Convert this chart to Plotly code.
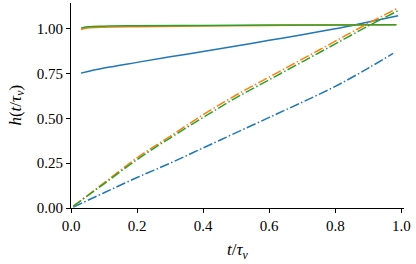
import plotly.graph_objects as go

colors = ["#1f77b4", "#ff7f0e", "#2ca02c"]

# solid curves
t_blue_s = [0.03, 0.1, 0.2, 0.3, 0.4, 0.5, 0.6, 0.7, 0.8, 0.9, 0.99]
h_blue_s = [0.752, 0.78, 0.812, 0.843, 0.872, 0.903, 0.935, 0.966, 0.999, 1.037, 1.072]
t_orange_s = [0.03, 0.05, 0.1, 0.2, 0.4, 0.6, 0.8, 0.985]
h_orange_s = [0.995, 1.003, 1.008, 1.011, 1.015, 1.018, 1.020, 1.022]
t_green_s = [0.03, 0.05, 0.1, 0.2, 0.4, 0.6, 0.8, 0.985]
h_green_s = [1.003, 1.010, 1.014, 1.016, 1.018, 1.020, 1.021, 1.022]

# dash-dot curves
t_blue_d = [0.007, 0.1, 0.2, 0.3, 0.4, 0.5, 0.6, 0.7, 0.8, 0.9, 0.975]
h_blue_d = [0.005, 0.085, 0.17, 0.25, 0.335, 0.42, 0.505, 0.59, 0.678, 0.78, 0.862]
t_orange_d = [0.007, 0.1, 0.2, 0.3, 0.4, 0.5, 0.6, 0.7, 0.8, 0.9, 0.99]
h_orange_d = [0.01, 0.14, 0.28, 0.40, 0.52, 0.63, 0.73, 0.83, 0.93, 1.03, 1.115]
t_green_d = [0.007, 0.1, 0.2, 0.3, 0.4, 0.5, 0.6, 0.7, 0.8, 0.9, 0.99]
h_green_d = [0.01, 0.135, 0.27, 0.39, 0.505, 0.615, 0.715, 0.815, 0.915, 1.015, 1.10]

x_ticks = [0.0, 0.2, 0.4, 0.6, 0.8, 1.0]
x_labels = ["0.0", "0.2", "0.4", "0.6", "0.8", "1.0"]
y_ticks = [0.0, 0.25, 0.5, 0.75, 1.0]
y_labels = ["0.00", "0.25", "0.50", "0.75", "1.00"]

x_title = "<i>t</i>/<i>τ</i><sub><i>v</i></sub>"
y_title = "<i>h</i>(<i>t</i>/<i>τ</i><sub><i>v</i></sub>)"

dashdot = "9.6px,2.4px,1.5px,2.4px"

fig = go.Figure()
for t, h, c in [(t_blue_s, h_blue_s, colors[0]), (t_orange_s, h_orange_s, colors[1]), (t_green_s, h_green_s, colors[2])]:
    fig.add_trace(go.Scatter(x=t, y=h, mode="lines", line=dict(color=c, width=1.5, shape="spline"),
                             showlegend=False))
for t, h, c in [(t_blue_d, h_blue_d, colors[0]), (t_orange_d, h_orange_d, colors[1]), (t_green_d, h_green_d, colors[2])]:
    fig.add_trace(go.Scatter(x=t, y=h, mode="lines", line=dict(color=c, width=1.5, dash=dashdot, shape="spline"),
                             showlegend=False))

font = dict(family="Liberation Serif", size=15, color="black")
title_font = dict(family="Liberation Serif", size=17, color="black")

axis_common = dict(showgrid=False, zeroline=False, showline=True, linecolor="black", linewidth=1,
                   ticks="outside", ticklen=4, tickcolor="black", tickwidth=1,
                   automargin=False, ticklabeloverflow="allow", tickfont=font)

fig.update_layout(
    width=416, height=264,
    margin=dict(l=71, r=12, t=3, b=56),
    plot_bgcolor="white", paper_bgcolor="white",
    font=font,
    xaxis=dict(range=[0, 1.008], tickvals=x_ticks, ticktext=x_labels, **axis_common),
    yaxis=dict(range=[0, 1.143], tickvals=y_ticks, ticktext=y_labels, **axis_common),
    annotations=[
        dict(text=x_title, xref="paper", yref="paper", x=0.5, y=-0.145, yanchor="top",
             showarrow=False, font=title_font),
        dict(text=y_title, xref="paper", yref="paper", x=-0.165, y=0.5, xanchor="center",
             textangle=-90, showarrow=False, font=title_font),
    ],
)

fig.write_html("out.html", config={"displayModeBar": False},
               post_script="document.body.style.margin='0';document.body.style.overflow='hidden';")
